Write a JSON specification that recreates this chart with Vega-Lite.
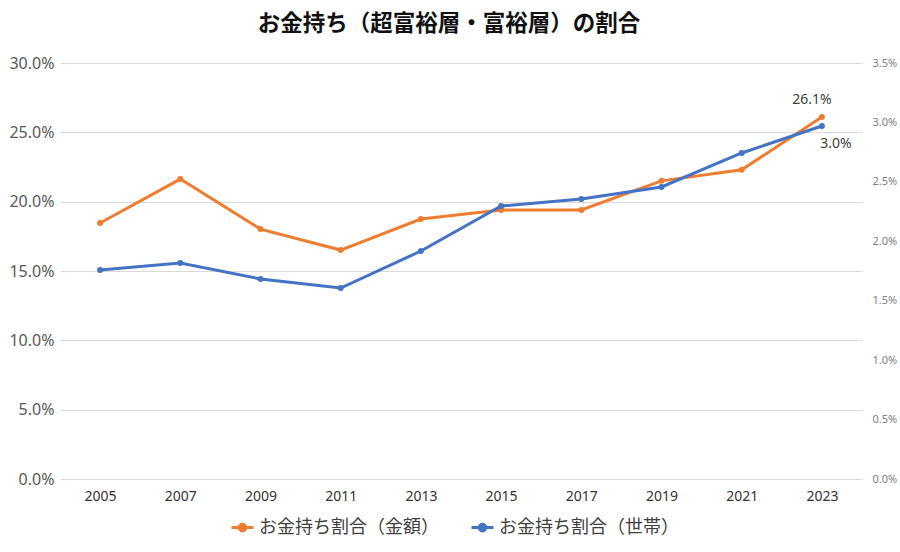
{
  "$schema": "https://vega.github.io/schema/vega-lite/v6.json",
  "width": 802,
  "height": 416,
  "autosize": "none",
  "padding": {"left": 60, "top": 63, "right": 38, "bottom": 73},
  "background": "white",
  "title": {
    "text": "お金持ち（超富裕層・富裕層）の割合",
    "font": "Noto Sans CJK JP",
    "fontSize": 22.5,
    "fontWeight": "bold",
    "color": "#111111",
    "anchor": "middle",
    "dx": -12,
    "offset": 20
  },
  "data": {
    "values": [
      {"year": "2005", "series": "お金持ち割合（金額）", "value": 0.1846},
      {"year": "2007", "series": "お金持ち割合（金額）", "value": 0.2163},
      {"year": "2009", "series": "お金持ち割合（金額）", "value": 0.1802},
      {"year": "2011", "series": "お金持ち割合（金額）", "value": 0.1651},
      {"year": "2013", "series": "お金持ち割合（金額）", "value": 0.1875},
      {"year": "2015", "series": "お金持ち割合（金額）", "value": 0.194},
      {"year": "2017", "series": "お金持ち割合（金額）", "value": 0.194},
      {"year": "2019", "series": "お金持ち割合（金額）", "value": 0.215},
      {"year": "2021", "series": "お金持ち割合（金額）", "value": 0.223},
      {"year": "2023", "series": "お金持ち割合（金額）", "value": 0.261},
      {"year": "2005", "series": "お金持ち割合（世帯）", "value": 0.01758},
      {"year": "2007", "series": "お金持ち割合（世帯）", "value": 0.01817},
      {"year": "2009", "series": "お金持ち割合（世帯）", "value": 0.01683},
      {"year": "2011", "series": "お金持ち割合（世帯）", "value": 0.01607},
      {"year": "2013", "series": "お金持ち割合（世帯）", "value": 0.01918},
      {"year": "2015", "series": "お金持ち割合（世帯）", "value": 0.02297},
      {"year": "2017", "series": "お金持ち割合（世帯）", "value": 0.02356},
      {"year": "2019", "series": "お金持ち割合（世帯）", "value": 0.02457},
      {"year": "2021", "series": "お金持ち割合（世帯）", "value": 0.02743},
      {"year": "2023", "series": "お金持ち割合（世帯）", "value": 0.0297}
    ]
  },
  "encoding": {
    "x": {
      "field": "year",
      "type": "ordinal",
      "scale": {"type": "point", "padding": 0.5},
      "axis": {
        "title": null,
        "labelAngle": 0,
        "labelFont": "Noto Sans",
        "labelFontSize": 14,
        "labelColor": "#333333",
        "labelPadding": 10,
        "domain": false,
        "ticks": false,
        "grid": false
      }
    },
    "color": {
      "field": "series",
      "type": "nominal",
      "scale": {
        "domain": ["お金持ち割合（金額）", "お金持ち割合（世帯）"],
        "range": ["#ED7D31", "#4472C4"]
      },
      "legend": {
        "title": null,
        "orient": "none",
        "legendX": 170,
        "legendY": 452,
        "direction": "horizontal",
        "labelFont": "Noto Sans CJK JP",
        "labelFontSize": 18,
        "labelColor": "#404040",
        "labelLimit": 0,
        "labelOffset": 4,
        "symbolType": "M-1,0H1M0.3,0A0.3,0.3,0,1,1,-0.3,0A0.3,0.3,0,1,1,0.3,0Z",
        "symbolSize": 484,
        "symbolStrokeWidth": 3,
        "columnPadding": 26
      }
    }
  },
  "layer": [
    {
      "transform": [{"filter": "datum.series === 'お金持ち割合（金額）'"}],
      "layer": [
        {
          "mark": {"type": "line", "strokeWidth": 3, "point": {"size": 36, "filled": true}},
          "encoding": {
            "y": {
              "field": "value",
              "type": "quantitative",
              "scale": {"domain": [0, 0.3], "nice": false},
              "axis": {
                "title": null,
                "format": ".1%",
                "values": [0, 0.05, 0.1, 0.15, 0.2, 0.25, 0.3],
                "labelFont": "Noto Sans",
                "labelFontSize": 16,
                "labelColor": "#595959",
                "labelPadding": 6,
                "domain": false,
                "ticks": false,
                "gridColor": "#d9d9d9",
                "gridWidth": 1
              }
            }
          }
        },
        {
          "transform": [{"filter": "datum.year === '2023'"}],
          "mark": {"type": "text", "font": "Noto Sans", "fontSize": 14, "dx": -10, "dy": -17},
          "encoding": {
            "y": {"field": "value", "type": "quantitative", "scale": {"domain": [0, 0.3], "nice": false}},
            "text": {"field": "value", "type": "quantitative", "format": ".1%"},
            "color": {"value": "#404040"}
          }
        }
      ]
    },
    {
      "transform": [{"filter": "datum.series === 'お金持ち割合（世帯）'"}],
      "layer": [
        {
          "mark": {"type": "line", "strokeWidth": 3, "point": {"size": 36, "filled": true}},
          "encoding": {
            "y": {
              "field": "value",
              "type": "quantitative",
              "scale": {"domain": [0, 0.035], "nice": false},
              "axis": {
                "title": null,
                "orient": "right",
                "format": ".1%",
                "values": [0, 0.005, 0.01, 0.015, 0.02, 0.025, 0.03, 0.035],
                "labelFont": "Noto Sans",
                "labelFontSize": 11,
                "labelColor": "#7f7f7f",
                "labelPadding": 10,
                "domain": false,
                "ticks": false,
                "grid": false
              }
            }
          }
        },
        {
          "transform": [{"filter": "datum.year === '2023'"}],
          "mark": {"type": "text", "font": "Noto Sans", "fontSize": 14, "dx": 14, "dy": 18},
          "encoding": {
            "y": {"field": "value", "type": "quantitative", "scale": {"domain": [0, 0.035], "nice": false}},
            "text": {"field": "value", "type": "quantitative", "format": ".1%"},
            "color": {"value": "#404040"}
          }
        }
      ]
    }
  ],
  "resolve": {"scale": {"y": "independent"}},
  "config": {"view": {"stroke": null}}
}
